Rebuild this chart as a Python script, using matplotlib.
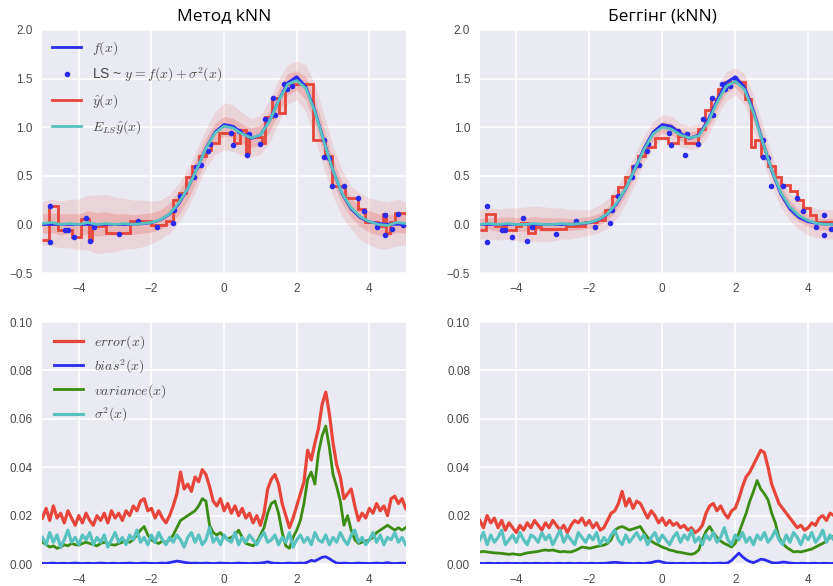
import numpy as np
import matplotlib
matplotlib.use("Agg")
import matplotlib.pyplot as plt

plt.rcParams['mathtext.fontset'] = 'cm'
plt.rcParams['font.family'] = ['Liberation Sans', 'DejaVu Sans']

titles = ['Метод kNN', 'Беггінг (kNN)']

# true function and mean prediction, sampled every 0.25 on [-5, 5]
f_true = [0.0, 0.0, 0.0, 0.0, 0.0, 0.0, 0.0, 0.0, 0.0, 0.0, 0.002, 0.007,
          0.018, 0.047, 0.105, 0.21, 0.368, 0.571, 0.782, 0.949, 1.027,
          1.009, 0.937, 0.884, 0.92, 1.065, 1.273, 1.456, 1.518, 1.415,
          1.17, 0.856, 0.552, 0.314, 0.158, 0.07, 0.027, 0.0095, 0.003,
          0.001, 0.0]
mean_knn = [0.01, 0.02, 0.0, 0.01, 0.0, 0.02, 0.0, 0.01, 0.0, 0.01, 0.0, 0.01,
            0.02, 0.05, 0.11, 0.22, 0.37, 0.57, 0.78, 0.94, 1.01, 0.99, 0.93,
            0.89, 0.92, 1.06, 1.27, 1.44, 1.48, 1.40, 1.16, 0.85, 0.55, 0.32,
            0.17, 0.08, 0.03, 0.0, -0.01, 0.02, 0.01]
mean_bag = [0.0, 0.01, 0.0, 0.01, 0.0, 0.0, 0.01, 0.0, 0.0, 0.01, 0.0, 0.01,
            0.02, 0.05, 0.11, 0.22, 0.37, 0.57, 0.77, 0.93, 1.0, 0.98, 0.92,
            0.89, 0.91, 1.05, 1.25, 1.42, 1.47, 1.39, 1.15, 0.85, 0.56, 0.33,
            0.18, 0.09, 0.04, 0.01, 0.0, 0.0, 0.0]

# spread of the 50 faint predictions around the mean
spread_out_knn = [0.22, 0.24, 0.24, 0.25, 0.26, 0.28, 0.30, 0.30, 0.28, 0.26,
                  0.25, 0.24, 0.22, 0.20, 0.20, 0.20, 0.20, 0.20, 0.20, 0.22,
                  0.24, 0.24, 0.22, 0.20, 0.20, 0.22, 0.22, 0.20, 0.20, 0.24,
                  0.28, 0.28, 0.26, 0.24, 0.22, 0.24, 0.24, 0.25, 0.24, 0.24,
                  0.22]
spread_in_knn = [0.10, 0.10, 0.11, 0.10, 0.11, 0.12, 0.12, 0.12, 0.11, 0.10,
                 0.10, 0.10, 0.10, 0.10, 0.11, 0.12, 0.12, 0.12, 0.11, 0.10,
                 0.10, 0.10, 0.10, 0.10, 0.10, 0.11, 0.12, 0.11, 0.10, 0.12,
                 0.13, 0.13, 0.12, 0.11, 0.10, 0.10, 0.11, 0.11, 0.11, 0.10,
                 0.10]
spread_out_bag = [0.15, 0.16, 0.16, 0.16, 0.17, 0.18, 0.18, 0.18, 0.17, 0.16,
                  0.15, 0.14, 0.13, 0.14, 0.15, 0.16, 0.16, 0.15, 0.14, 0.13,
                  0.13, 0.13, 0.12, 0.12, 0.13, 0.14, 0.15, 0.15, 0.14, 0.16,
                  0.18, 0.18, 0.16, 0.15, 0.14, 0.14, 0.15, 0.15, 0.15, 0.15,
                  0.15]
spread_in_bag = [0.06, 0.06, 0.07, 0.07, 0.07, 0.07, 0.07, 0.07, 0.07, 0.06,
                 0.06, 0.06, 0.06, 0.06, 0.07, 0.07, 0.07, 0.07, 0.06, 0.06,
                 0.06, 0.06, 0.06, 0.06, 0.06, 0.07, 0.07, 0.07, 0.06, 0.08,
                 0.08, 0.08, 0.07, 0.07, 0.06, 0.06, 0.06, 0.06, 0.06, 0.06,
                 0.06]

# one prediction (step function): edges and levels
knn_edges = [-5, -4.81, -4.58, -4.2, -3.94, -3.71, -3.65, -3.24, -2.6, -2.0,
             -1.6, -1.41, -1.23, -1.05, -0.87, -0.68, -0.5, -0.36, -0.14, 0.28,
             0.43, 0.59, 0.68, 1.05, 1.14, 1.32, 1.5, 1.69, 2.46, 2.78,
             2.97, 3.33, 3.7, 3.88, 4.24, 4.38, 4.47, 4.56, 4.7, 5]
knn_pred = [-0.16, 0.19, -0.06, -0.13, 0.06, -0.16, -0.02, -0.09, 0.04, -0.01,
            0.04, 0.25, 0.32, 0.49, 0.6, 0.7, 0.77, 0.84, 0.94, 0.84,
            0.97, 0.73, 0.9, 0.84, 1.1, 1.3, 1.15, 1.44, 0.87, 0.7,
            0.4, 0.27, 0.155, 0.03, -0.02, 0.11, -0.09, 0.03, 0.12]
bag_edges = [-5, -4.82, -4.59, -4.27, -4.0, -3.86, -3.68, -3.49, -3.31, -2.63,
             -2.12, -1.8, -1.58, -1.39, -1.21, -1.03, -0.84, -0.66, -0.48, -0.21,
             0.16, 0.43, 0.62, 0.98, 1.16, 1.35, 1.53, 1.71, 2.26, 2.44,
             2.53, 2.72, 2.9, 3.08, 3.26, 3.49, 3.68, 3.86, 4.04, 4.22,
             4.45, 5]
bag_pred = [-0.06, 0.11, -0.02, -0.06, -0.02, 0.01, -0.09, -0.03, -0.05, -0.02,
            0.02, 0.045, 0.15, 0.29, 0.39, 0.49, 0.6, 0.7, 0.8, 0.89,
            0.84, 0.91, 0.84, 0.98, 1.18, 1.29, 1.39, 1.46, 1.29, 0.8,
            0.87, 0.7, 0.6, 0.49, 0.41, 0.34, 0.25, 0.165, 0.1, 0.03,
            0.02]

# learning sample
ls_x = [-4.80, -4.80, -4.39, -4.30, -4.13, -3.81, -3.70, -3.57, -2.90, -2.36,
        -1.84, -1.42, -1.38, -1.21, -0.84, -0.77, -0.64, -0.43, -0.39, 0.18,
        0.24, 0.42, 0.68, 0.63, 0.98, 1.12, 1.36, 1.40, 1.64, 1.73, 1.86,
        1.99, 2.76, 2.76, 2.90, 2.97, 3.31, 3.68, 3.86, 4.22, 4.42, 4.42,
        4.62, 4.78, 4.94]
ls_y = [0.19, -0.18, -0.055, -0.06, -0.134, 0.069, -0.166, -0.024, -0.10, 0.038,
        -0.031, 0.017, 0.148, 0.29, 0.49, 0.59, 0.61, 0.76, 0.83, 0.935,
        0.82, 0.96, 0.93, 0.71, 0.83, 1.08, 1.30, 1.12, 1.44, 1.39, 1.42,
        1.51, 0.87, 0.69, 0.68, 0.40, 0.40, 0.27, 0.14, -0.024, 0.10, -0.11,
        -0.045, 0.11, -0.005]

# decomposition, sampled every 0.1 on [-5, 5]
err_knn = [.019, .023, .018, .024, .019, .021, .017, .022, .019, .016,
           .020, .017, .021, .018, .016, .020, .018, .021, .017, .022,
           .019, .021, .018, .022, .020, .024, .022, .026, .027, .022,
           .023, .019, .022, .019, .017, .020, .024, .029, .038, .031,
           .033, .030, .036, .034, .039, .037, .032, .026, .024, .027,
           .022, .025, .021, .024, .020, .023, .019, .021, .017, .020,
           .016, .021, .031, .035, .037, .033, .025, .020, .015, .019,
           .024, .029, .034, .047, .043, .050, .056, .066, .071, .062,
           .050, .041, .036, .027, .029, .031, .024, .018, .021, .019,
           .023, .021, .025, .022, .024, .020, .027, .028, .025, .027,
           .023]
var_knn = [.009, .008, .007, .0075, .0065, .007, .008, .0075, .0085, .008,
           .0078, .0085, .009, .0085, .008, .0075, .0085, .009, .0085, .008,
           .0078, .0085, .009, .0095, .009, .010, .012, .014, .0155, .012,
           .010, .009, .0085, .0095, .009, .010, .012, .015, .018, .019,
           .020, .021, .022, .024, .027, .026, .016, .013, .012, .013,
           .011, .0105, .011, .012, .014, .011, .0085, .008, .0075, .009,
           .012, .015, .021, .025, .026, .021, .013, .0075, .0065, .011,
           .014, .018, .025, .035, .038, .033, .046, .053, .057, .048,
           .037, .032, .026, .016, .020, .014, .010, .0085, .009, .0095,
           .010, .011, .013, .014, .015, .016, .015, .014, .015, .014,
           .015]
noise_knn = [.011, .008, .013, .009, .012, .007, .010, .014, .009, .011,
             .008, .012, .010, .013, .008, .011, .009, .012, .007, .010,
             .013, .009, .011, .008, .012, .010, .014, .009, .011, .008,
             .012, .009, .013, .010, .008, .011, .009, .012, .010, .007,
             .011, .013, .009, .012, .008, .010, .015, .009, .011, .008,
             .012, .010, .009, .013, .008, .011, .009, .012, .010, .008,
             .011, .013, .009, .010, .012, .008, .011, .009, .013, .007,
             .010, .012, .009, .011, .008, .013, .010, .009, .012, .008,
             .011, .009, .013, .010, .008, .012, .014, .009, .011, .008,
             .010, .013, .009, .012, .008, .011, .010, .013, .009, .011,
             .008]
bias_knn = [.0003, .0002, .0003, .0004, .0002, .0003, .0003, .0002, .0003, .0004,
            .0003, .0002, .0003, .0003, .0002, .0003, .0004, .0003, .0002, .0003,
            .0003, .0002, .0003, .0003, .0004, .0003, .0002, .0003, .0004, .0003,
            .0003, .0002, .0003, .0004, .0003, .0006, .0009, .0012, .0010, .0007,
            .0005, .0003, .0004, .0003, .0003, .0004, .0003, .0002, .0003, .0004,
            .0003, .0003, .0002, .0003, .0004, .0003, .0003, .0002, .0003, .0003,
            .0004, .0006, .0009, .0005, .0003, .0003, .0002, .0003, .0004, .0003,
            .0003, .0004, .0003, .0008, .0015, .0012, .0020, .0028, .0030, .0022,
            .0012, .0004, .0003, .0004, .0003, .0002, .0003, .0004, .0003, .0003,
            .0002, .0003, .0004, .0003, .0003, .0006, .0003, .0002, .0003, .0004,
            .0003]
err_bag = [.018, .015, .020, .017, .019, .015, .018, .014, .017, .015,
           .013, .016, .014, .017, .015, .018, .016, .014, .017, .015,
           .018, .016, .014, .016, .013, .016, .018, .017, .019, .016,
           .018, .015, .017, .014, .015, .018, .021, .022, .025, .030,
           .024, .027, .023, .026, .025, .022, .019, .022, .020, .017,
           .019, .016, .018, .016, .017, .015, .016, .014, .015, .013,
           .014, .016, .021, .024, .025, .022, .024, .021, .019, .022,
           .023, .027, .032, .036, .038, .041, .044, .047, .046, .040,
           .033, .029, .025, .023, .021, .019, .017, .015, .016, .014,
           .015, .017, .016, .019, .020, .018, .021, .020, .022, .019,
           .021]
var_bag = [.0050, .0052, .0050, .0048, .0046, .0045, .0044, .0042, .0040, .0042,
           .0040, .0038, .0042, .0046, .0048, .0050, .0052, .0056, .0058, .0056,
           .0058, .0054, .0050, .0052, .0050, .0050, .0055, .0062, .0070, .0068,
           .0065, .0068, .0072, .0075, .0078, .0085, .0100, .0140, .0150, .0155,
           .0148, .0140, .0145, .0150, .0155, .0130, .0110, .0095, .0085, .0078,
           .0070, .0065, .0058, .0055, .0050, .0048, .0045, .0042, .0040, .0045,
           .0058, .0100, .0135, .0155, .0130, .0110, .0095, .0085, .0078, .0070,
           .0085, .0127, .0170, .0210, .0260, .0300, .0345, .0310, .0290, .0265,
           .0210, .0170, .0110, .0085, .0070, .0060, .0050, .0052, .0050, .0054,
           .0058, .0062, .0070, .0078, .0085, .0095, .0110, .0115, .0118, .0120,
           .0122]
noise_bag = [.010, .013, .008, .012, .009, .011, .014, .008, .010, .012,
             .009, .013, .010, .008, .012, .011, .009, .013, .010, .012,
             .008, .011, .014, .009, .012, .010, .008, .013, .011, .009,
             .012, .010, .013, .008, .011, .009, .012, .014, .010, .008,
             .012, .009, .011, .013, .010, .012, .008, .011, .013, .009,
             .012, .010, .008, .011, .013, .009, .012, .010, .014, .009,
             .011, .008, .012, .010, .013, .009, .011, .015, .010, .008,
             .012, .010, .013, .009, .011, .008, .012, .010, .013, .009,
             .011, .014, .010, .008, .012, .009, .013, .011, .008, .012,
             .010, .013, .009, .011, .014, .009, .012, .010, .008, .012,
             .010]
bias_bag = [.0003, .0002, .0003, .0003, .0002, .0003, .0002, .0003, .0003, .0002,
            .0003, .0002, .0003, .0003, .0002, .0003, .0003, .0002, .0003, .0003,
            .0002, .0003, .0003, .0002, .0003, .0003, .0002, .0003, .0003, .0002,
            .0003, .0003, .0002, .0003, .0003, .0004, .0006, .0007, .0006, .0004,
            .0003, .0003, .0002, .0003, .0003, .0002, .0004, .0006, .0010, .0012,
            .0008, .0004, .0003, .0003, .0002, .0003, .0003, .0002, .0003, .0003,
            .0002, .0003, .0003, .0002, .0003, .0003, .0004, .0003, .0005, .0015,
            .0030, .0045, .0030, .0018, .0010, .0006, .0012, .0020, .0018, .0012,
            .0006, .0004, .0005, .0008, .0007, .0004, .0003, .0002, .0003, .0003,
            .0002, .0003, .0003, .0002, .0003, .0003, .0002, .0003, .0003, .0002,
            .0003]

C_BLUE = '#2b2bf0'
C_RED = '#e8453a'
C_CYAN = '#58c2c0'
C_GREEN = '#3b8c12'
BG = '#eaeaf2'
TXT = '#4a4a4a'


def style(ax, ylim, yticks, yfmt):
    ax.set_facecolor(BG)
    for s in ax.spines.values():
        s.set_visible(False)
    ax.grid(True, color='white', linewidth=1.1)
    ax.set_axisbelow(True)
    ax.set_xlim(-5, 5)
    ax.set_ylim(*ylim)
    ax.set_xticks([-4, -2, 0, 2, 4])
    ax.set_xticklabels(['\u22124', '\u22122', '0', '2', '4'])
    ax.set_yticks(yticks)
    ax.set_yticklabels([yfmt(v) for v in yticks])
    ax.tick_params(length=0, labelsize=8.5, labelcolor=TXT, pad=7)


def top_panel(ax, mean, sp_out, sp_in, edges, pred, legend):
    xs = np.linspace(-5, 5, len(f_true))
    m = np.array(mean)
    ax.fill_between(xs, m - np.array(sp_out), m + np.array(sp_out),
                    color=C_RED, alpha=0.13, linewidth=0)
    ax.fill_between(xs, m - np.array(sp_in), m + np.array(sp_in),
                    color=C_RED, alpha=0.22, linewidth=0)
    ax.plot(xs, f_true, color=C_BLUE, lw=2, label='$f(x)$')
    ax.plot(ls_x, ls_y, '.', color=C_BLUE, ms=6,
            label='LS ~ $y = f(x)+\\sigma^2(x)$')
    ax.stairs(pred, edges, baseline=None, color=C_RED, lw=2,
              label='$\\^y(x)$')
    ax.plot(xs, mean, color=C_CYAN, lw=2, label='$E_{LS}\\^y(x)$')
    style(ax, (-0.5, 2.0), [-0.5, 0.0, 0.5, 1.0, 1.5, 2.0],
          lambda v: ('\u2212' if v < 0 else '') + '%.1f' % abs(v))
    if legend:
        leg = ax.legend(loc='upper left', frameon=False, fontsize=10,
                        labelspacing=0.6, handlelength=2.1,
                        borderaxespad=0.3)
        for t in leg.get_texts():
            t.set_color(TXT)


def bottom_panel(ax, err, bias, var, noise, legend):
    xs = np.linspace(-5, 5, len(err))
    ax.plot(xs, err, color=C_RED, lw=2.3, label='$error(x)$')
    ax.plot(xs, bias, color=C_BLUE, lw=2, label='$bias^2(x)$')
    ax.plot(xs, var, color=C_GREEN, lw=2, label='$variance(x)$')
    ax.plot(xs, noise, color=C_CYAN, lw=2.3, label='$\\sigma^2(x)$')
    style(ax, (0, 0.1), [0.0, 0.02, 0.04, 0.06, 0.08, 0.10],
          lambda v: '%.2f' % v)
    if legend:
        leg = ax.legend(loc='upper left', frameon=False, fontsize=10,
                        labelspacing=0.45, handlelength=2.1,
                        borderaxespad=0.4)
        for t in leg.get_texts():
            t.set_color(TXT)


fig = plt.figure(figsize=(8.33, 5.86), dpi=100)
ax1 = fig.add_axes([0.051, 0.534, 0.436, 0.415])
ax2 = fig.add_axes([0.576, 0.534, 0.438, 0.415])
ax3 = fig.add_axes([0.051, 0.0375, 0.436, 0.413])
ax4 = fig.add_axes([0.576, 0.0375, 0.438, 0.413])

top_panel(ax1, mean_knn, spread_out_knn, spread_in_knn, knn_edges, knn_pred, True)
top_panel(ax2, mean_bag, spread_out_bag, spread_in_bag, bag_edges, bag_pred, False)
bottom_panel(ax3, err_knn, bias_knn, var_knn, noise_knn, True)
bottom_panel(ax4, err_bag, bias_bag, var_bag, noise_bag, False)

for ax, t in zip([ax1, ax2], titles):
    ax.set_title(t, fontsize=12.5, family=['Open Sans', 'DejaVu Sans'],
                 pad=7)

fig.savefig('out.png', dpi=100, facecolor='white')
